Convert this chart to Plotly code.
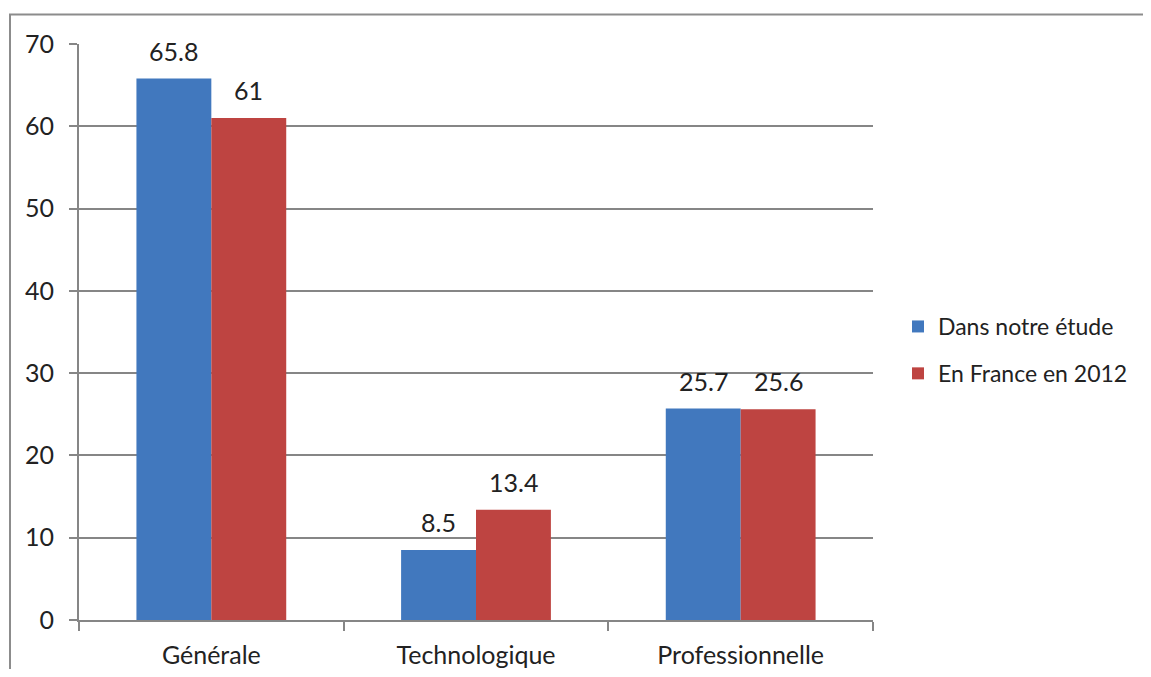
import plotly.graph_objects as go

categories = ["Générale", "Technologique", "Professionnelle"]
series_names = ["Dans notre étude", "En France en 2012"]
etude = [65.8, 8.5, 25.7]
france = [61, 13.4, 25.6]
y_ticks = [0, 10, 20, 30, 40, 50, 60, 70]

colors = ["#4178BE", "#BE4441"]
FONT = "Lato, Noto Sans, sans-serif"
GRAY = "#868686"
FS = 25
BARGAP = 0.434

OFF = 8  # page body margin
W, H = 1151 - 2 * OFF, 677 - 2 * OFF
L, R, T, B = 79 - OFF, 873 - OFF, 44 - OFF, 620 - OFF

def px(x):
    return (x - OFF - L) / (R - L)

def py(y):
    return (B - (y - OFF)) / (B - T)

fig = go.Figure()
bar_w = (1 - BARGAP) / 2
annotations = []
for i, (name, vals, c) in enumerate(zip(series_names, [etude, france], colors)):
    fig.add_trace(go.Bar(
        x=categories, y=vals, name=name, legendgroup=f"g{i}",
        marker=dict(color=c, line=dict(width=0)),
    ))
    off = (i - 0.5) * bar_w
    for j, v in enumerate(vals):
        annotations.append(dict(
            x=j + off, y=v, xref="x", yref="y", text=f"{v:g}",
            showarrow=False, yanchor="bottom", yshift=11,
            font=dict(family=FONT, size=FS, color="#222222"),
        ))

fig.update_layout(
    width=W, height=H,
    margin=dict(l=L, r=W - R, t=T, b=H - B, autoexpand=False),
    paper_bgcolor="white", plot_bgcolor="white",
    barmode="group", bargap=BARGAP, bargroupgap=0,
    font=dict(family=FONT, size=FS, color="#222222"),
    legend=dict(x=px(898), xanchor="left", y=py(350), yanchor="middle",
                font=dict(size=23), itemwidth=30, traceorder="grouped",
                tracegroupgap=14, bgcolor="rgba(0,0,0,0)"),
    xaxis=dict(showline=True, linecolor=GRAY, linewidth=2, ticks="outside",
               tickson="boundaries", ticklen=9, tickcolor=GRAY, tickwidth=2,
               showgrid=False, tickfont=dict(size=FS), ticklabelstandoff=12,
               automargin=False),
    yaxis=dict(range=[0, 70], tickvals=y_ticks, showline=True, linecolor=GRAY,
               linewidth=2, ticks="outside", ticklen=8, tickcolor=GRAY, tickwidth=2,
               showgrid=True, gridcolor=GRAY, gridwidth=1.5, zeroline=False,
               tickfont=dict(size=FS), ticklabelstandoff=10, automargin=False),
    annotations=annotations,
    shapes=[dict(type="rect", xref="paper", yref="paper",
                 x0=px(10), x1=px(1170), y0=py(700), y1=py(14.5),
                 line=dict(color="#8c8c8c", width=2), fillcolor="rgba(0,0,0,0)",
                 layer="below")],
)

fig.write_html("out.html")
